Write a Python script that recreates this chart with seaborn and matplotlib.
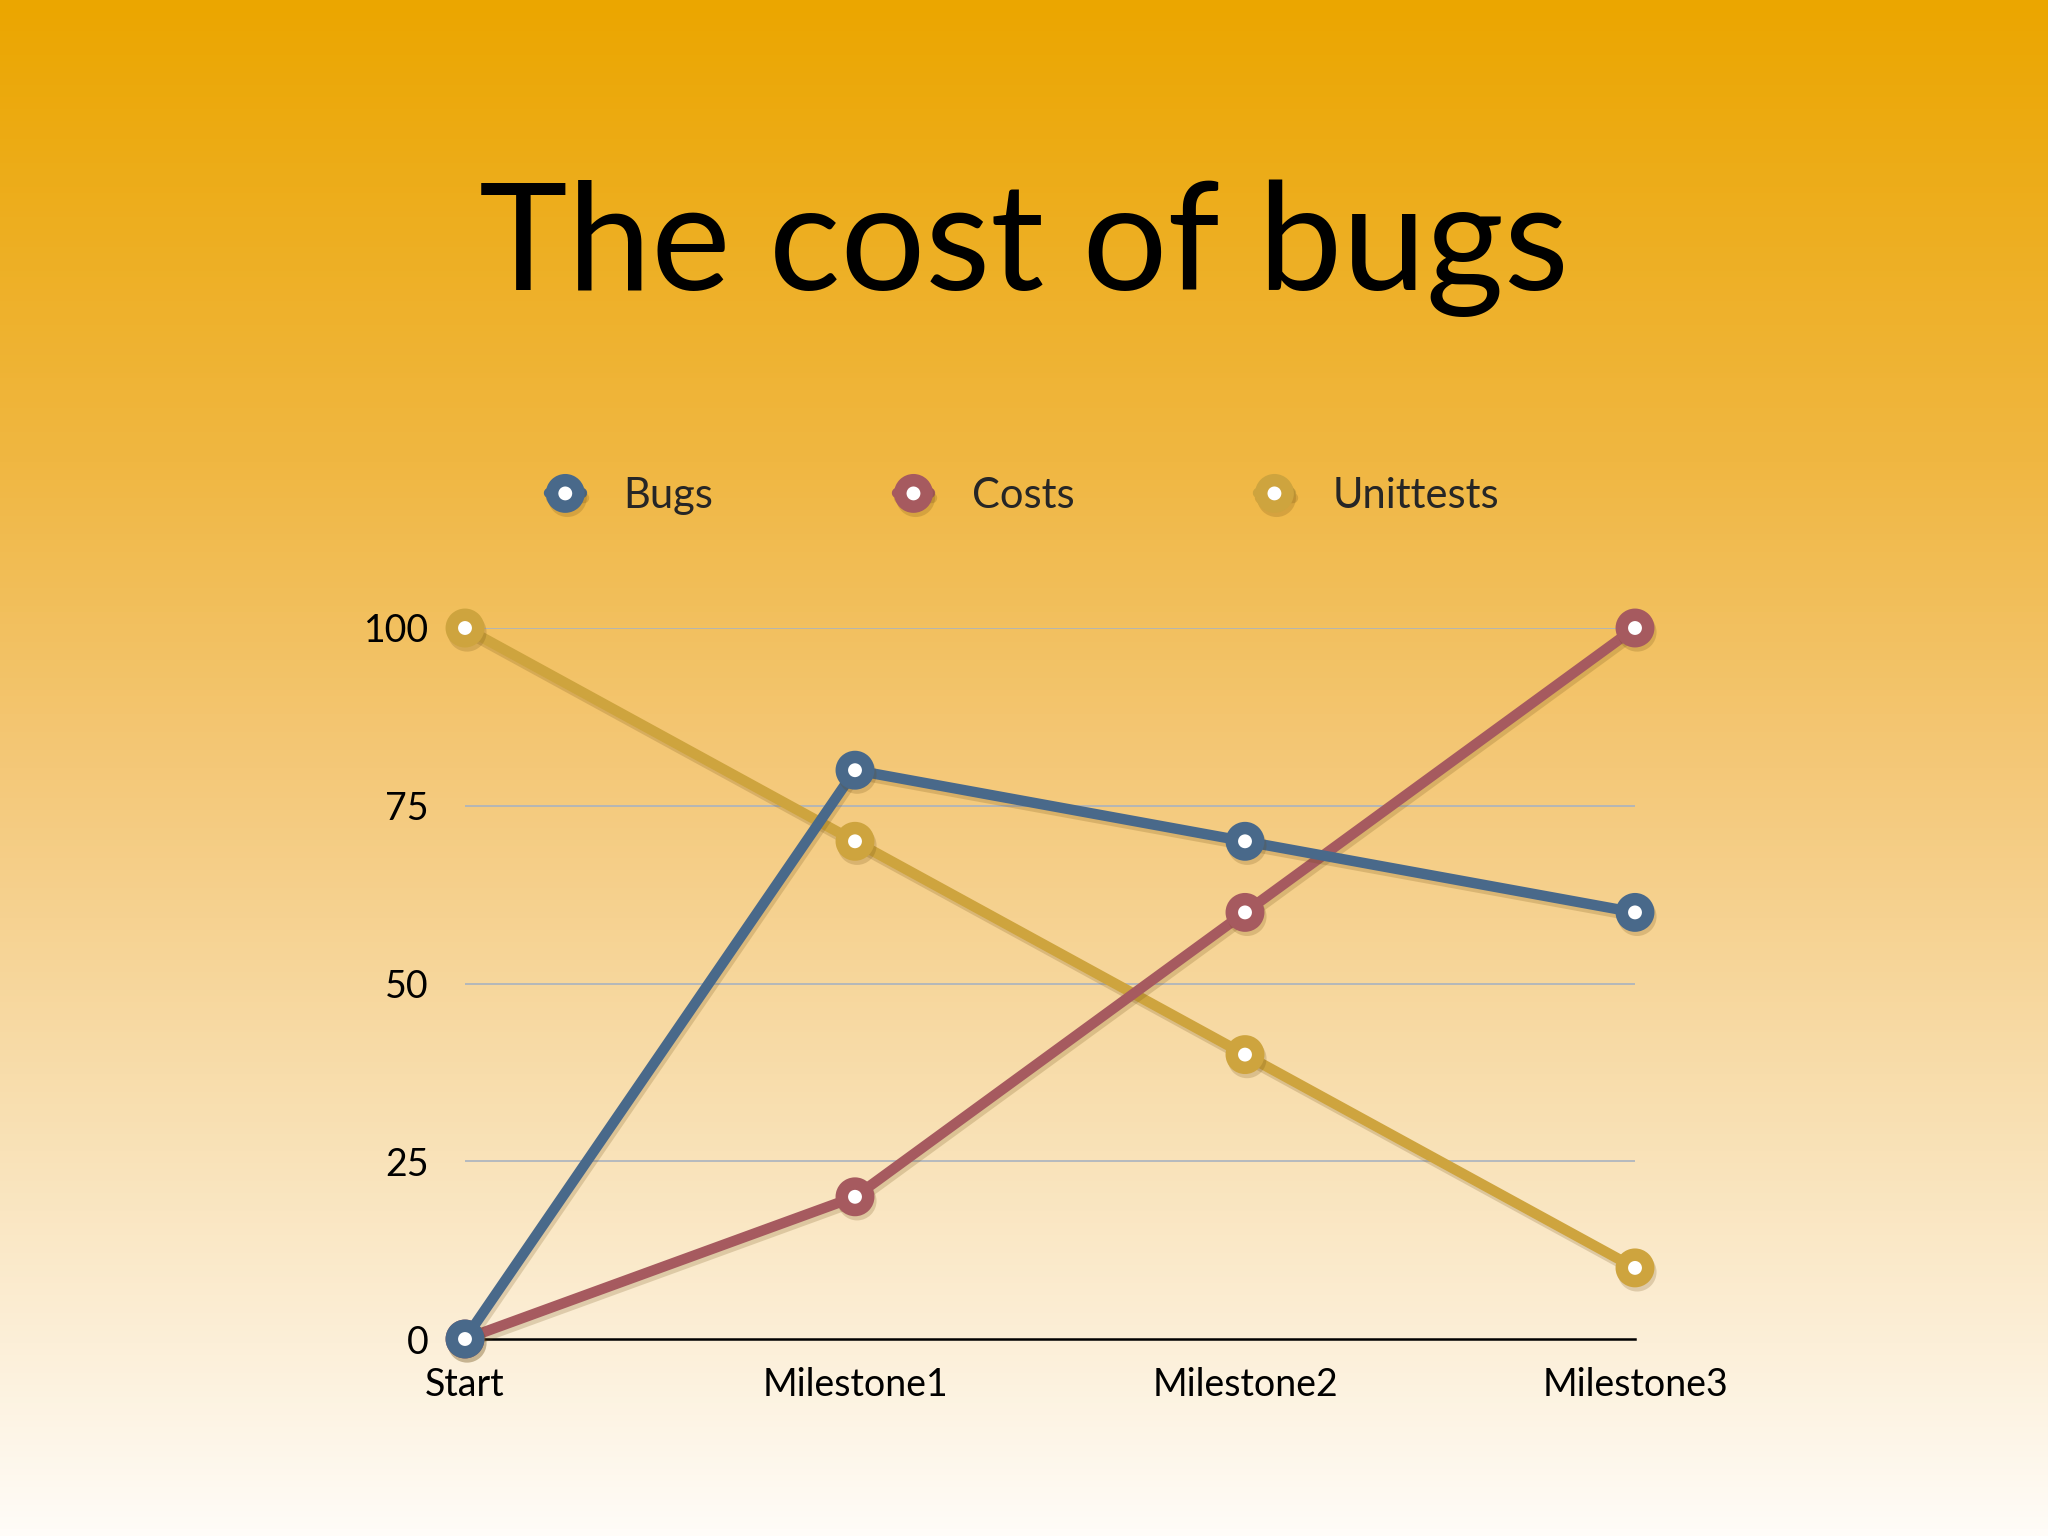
import numpy as np
import pandas as pd
import matplotlib
matplotlib.use("Agg")
import matplotlib.pyplot as plt
import matplotlib.patheffects as pe
from matplotlib.colors import LinearSegmentedColormap
import seaborn as sns

# Datos del gráfico
etapas = ["Start", "Milestone1", "Milestone2", "Milestone3"]
bugs = [0, 80, 70, 60]
costs = [0, 20, 60, 100]
unittests = [100, 70, 40, 10]
series = ["Bugs", "Costs", "Unittests"]
colores = ["#49698A", "#A65A5F", "#CEA43E"]
ticks_y = [0, 25, 50, 75, 100]

df = pd.DataFrame({
    "etapa": list(range(len(etapas))) * 3,
    "valor": bugs + costs + unittests,
    "serie": [s for s in series for _ in etapas],
})

sns.set_style("white")
plt.rcParams["font.family"] = ["Lato", "DejaVu Sans"]

fig = plt.figure(figsize=(20.48, 15.36), dpi=100)

# Fondo degradado
bg = fig.add_axes([0, 0, 1, 1], zorder=-10)
cmap = LinearSegmentedColormap.from_list(
    "fondo",
    [(0.0, "#EBA600"), (0.3, "#F0B742"), (0.5, "#F4C878"),
     (0.75, "#F9E2B8"), (1.0, "#FFFCF8")])
grad = np.linspace(0, 1, 512).reshape(-1, 1)
bg.imshow(grad, aspect="auto", cmap=cmap, extent=[0, 1, 0, 1])
bg.set_axis_off()

ax = fig.add_axes([465 / 2048, 1 - 1339 / 1536, (1635 - 465) / 2048, (1339 - 628) / 1536])
ax.set_facecolor("none")

sns.lineplot(data=df, x="etapa", y="valor", hue="serie", palette=colores,
             marker="o", markersize=19, linewidth=7.5, ax=ax, legend=False)

sombra = [pe.SimpleLineShadow(offset=(1.5, -3), alpha=0.2, shadow_color="#6A4A10"), pe.Normal()]
orden_z = {"Bugs": 5, "Costs": 4, "Unittests": 3}
for linea, nombre in zip(ax.lines, series):
    linea.set_markeredgecolor(linea.get_color())
    linea.set_markerfacecolor("white")
    linea.set_markeredgewidth(9)
    linea.set_solid_capstyle("round")
    linea.set_clip_on(False)
    linea.set_zorder(orden_z[nombre])
    linea.set_path_effects(sombra)
    linea.set_label(nombre)

ax.set_xlim(0, 3)
ax.set_ylim(0, 100)
ax.set_xticks(range(len(etapas)))
ax.set_xticklabels(etapas)
ax.set_yticks(ticks_y)
ax.set_yticklabels([str(t) for t in ticks_y])
ax.tick_params(axis="both", length=0, labelsize=27, colors="black")
ax.tick_params(axis="y", pad=26)
ax.tick_params(axis="x", pad=20)
ax.set_xlabel("")
ax.set_ylabel("")

for t in ticks_y[1:]:
    ax.axhline(t, color="#A9B3C0", linewidth=1.2, zorder=1)
for lado in ["top", "right", "left"]:
    ax.spines[lado].set_visible(False)
ax.spines["bottom"].set_color("black")
ax.spines["bottom"].set_linewidth(1.8)
ax.spines["bottom"].set_zorder(2)

fig.legend(handles=ax.lines[:3], labels=series, loc="center",
           bbox_to_anchor=(0.5, 1 - 496 / 1536), ncol=3, frameon=False,
           fontsize=30, handlelength=0.8, handletextpad=1.0, columnspacing=4.4)

fig.text(0.5, 1 - 290 / 1536, "The cost of bugs", ha="center", va="baseline",
         fontsize=108, color="black")

fig.savefig("out.png", dpi=100)
